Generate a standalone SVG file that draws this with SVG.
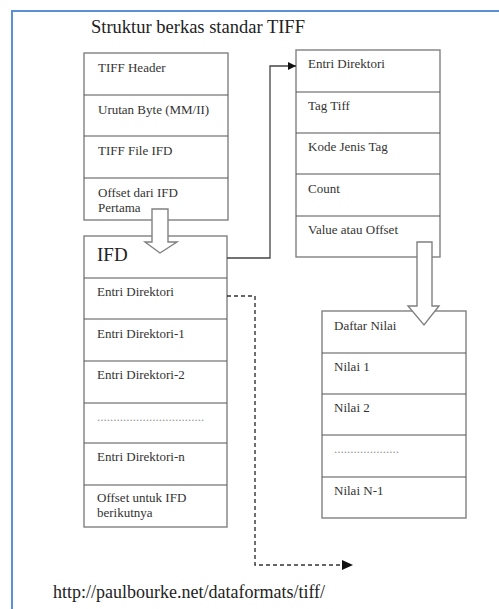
<svg xmlns="http://www.w3.org/2000/svg" width="499" height="609" viewBox="0 0 499 609">
<style>
.bg{fill:#ffffff}
.frame{fill:none;stroke:#5b8fd6;stroke-width:2}
.box{fill:#ffffff;stroke:#808080;stroke-width:1.4}
.div{stroke:#555555;stroke-width:1.2}
.t{font-family:"Liberation Serif","Times New Roman",serif;font-size:13px;fill:#333333}
.big{font-family:"Liberation Serif","Times New Roman",serif;font-size:19px;fill:#222222}
.title{font-family:"Liberation Serif","Times New Roman",serif;font-size:18.5px;fill:#222222}
.dots{font-family:"Liberation Serif","Times New Roman",serif;font-size:13px;fill:#999999}
.harrow{fill:#ffffff;stroke:#808080;stroke-width:1.4}
.conn{fill:none;stroke:#444444;stroke-width:1.3}
.dash{fill:none;stroke:#333333;stroke-width:1.4;stroke-dasharray:4,3}
</style>
<defs>
<marker id="ah" viewBox="0 0 10 10" refX="10" refY="5" markerWidth="11" markerHeight="8" markerUnits="userSpaceOnUse" orient="auto">
<path d="M0,0 L10,5 L0,10 Z" fill="#111111"/>
</marker>
</defs>
<rect class="bg" x="0" y="0" width="499" height="609"/>
<path class="frame" d="M12,609 L12,11 L499,11"/>
<text class="title" x="91" y="33">Struktur berkas standar TIFF</text>

<g id="tiff-file">
<rect class="box" x="84" y="53" width="144" height="167"/>
<line class="div" x1="84" y1="95" x2="228" y2="95"/>
<line class="div" x1="84" y1="136" x2="228" y2="136"/>
<line class="div" x1="84" y1="178" x2="228" y2="178"/>
<text class="t" x="98" y="72">TIFF Header</text>
<text class="t" x="98" y="114">Urutan Byte (MM/II)</text>
<text class="t" x="98" y="155">TIFF File IFD</text>
<text class="t" x="98" y="197">Offset dari IFD</text>
<text class="t" x="98" y="212">Pertama</text>
</g>

<g id="ifd">
<rect class="box" x="84" y="236" width="143" height="291"/>
<line class="div" x1="84" y1="278" x2="227" y2="278"/>
<line class="div" x1="84" y1="319" x2="227" y2="319"/>
<line class="div" x1="84" y1="361" x2="227" y2="361"/>
<line class="div" x1="84" y1="403" x2="227" y2="403"/>
<line class="div" x1="84" y1="443" x2="227" y2="443"/>
<line class="div" x1="84" y1="485" x2="227" y2="485"/>
<text class="big" x="97" y="261">IFD</text>
<text class="t" x="97" y="296">Entri Direktori</text>
<text class="t" x="97" y="338">Entri Direktori-1</text>
<text class="t" x="97" y="379">Entri Direktori-2</text>
<text class="dots" x="97" y="421">.................................</text>
<text class="t" x="97" y="461">Entri Direktori-n</text>
<text class="t" x="97" y="502">Offset untuk IFD</text>
<text class="t" x="97" y="517">berikutnya</text>
</g>

<g id="entry">
<rect class="box" x="296" y="50" width="144" height="207"/>
<line class="div" x1="296" y1="92" x2="440" y2="92"/>
<line class="div" x1="296" y1="133" x2="440" y2="133"/>
<line class="div" x1="296" y1="174" x2="440" y2="174"/>
<line class="div" x1="296" y1="216" x2="440" y2="216"/>
<text class="t" x="308" y="68">Entri Direktori</text>
<text class="t" x="308" y="110">Tag Tiff</text>
<text class="t" x="308" y="151">Kode Jenis Tag</text>
<text class="t" x="308" y="193">Count</text>
<text class="t" x="308" y="234">Value atau Offset</text>
</g>

<g id="values">
<rect class="box" x="322" y="311" width="144" height="207"/>
<line class="div" x1="322" y1="353" x2="466" y2="353"/>
<line class="div" x1="322" y1="394" x2="466" y2="394"/>
<line class="div" x1="322" y1="435" x2="466" y2="435"/>
<line class="div" x1="322" y1="477" x2="466" y2="477"/>
<text class="t" x="334" y="330">Daftar Nilai</text>
<text class="t" x="334" y="371">Nilai 1</text>
<text class="t" x="334" y="412">Nilai 2</text>
<text class="dots" x="334" y="453">....................</text>
<text class="t" x="334" y="495">Nilai N-1</text>
</g>

<g id="connectors">
<path class="harrow" d="M152,209 L168,209 L168,242 L177,242 L160,253 L145,242 L152,242 Z"/>
<path class="harrow" d="M417,242 L432,242 L432,306 L439,306 L424,325 L408,306 L417,306 Z"/>
<polyline class="conn" points="227,258 270,258 270,66 296,66" marker-end="url(#ah)"/>
<polyline class="dash" points="227,296 255,296 255,565 343,565"/>
<path d="M342,560 L353,565 L342,570 Z" fill="#111111"/>
</g>

<text class="big" x="53" y="598" style="font-size:18px;fill:#222222">http://paulbourke.net/dataformats/tiff/</text>
</svg>
